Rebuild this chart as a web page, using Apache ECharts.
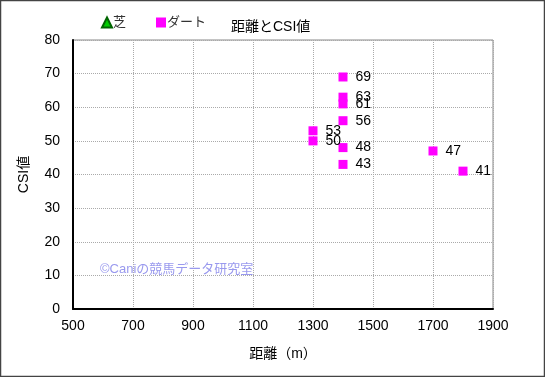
<!DOCTYPE html>
<html lang="ja">
<head>
  <meta charset="utf-8">
  <script src="https://cdn.jsdelivr.net/npm/echarts@6.0.0/dist/echarts.min.js"></script>
  <style>
    html, body { margin: 0; padding: 0; background: #fff; }
  </style>
</head>
<body>
  <div id="csiChart" style="width: 545px;height:377px;"></div>

  <script type="text/javascript">

    // 芝 (no points in this chart)
    var turfDistance = [];
    var turfCsi = [];

    // ダート
    var dirtDistance = [1400, 1400, 1400, 1400, 1300, 1300, 1400, 1400, 1700, 1800];
    var dirtCsi = [69, 63, 61, 56, 53, 50, 48, 43, 47, 41];

    function toPairs(xs, ys) {
        var out = [];
        for (var i = 0; i < xs.length; i++) {
            out.push([xs[i], ys[i]]);
        }
        return out;
    }

    function createCsiChart() {
        const chart = echarts.init(document.getElementById("csiChart"));
        const font = "'Liberation Sans', 'Noto Sans CJK JP', sans-serif";

        var option = {
            animation: false,
            textStyle: { fontFamily: font },
            title: {
                text: '距離とCSI値',
                left: 226,
                top: 15,
                textStyle: { fontSize: 14, fontWeight: 'normal', color: '#000', fontFamily: font }
            },
            legend: {
                left: 96,
                top: 11,
                itemWidth: 10,
                itemHeight: 10,
                itemGap: 30,
                textStyle: { fontSize: 13, color: '#333', fontFamily: font, padding: [0, 0, 0, -4] },
                data: [
                    { name: '芝', icon: 'triangle' },
                    { name: 'ダート', icon: 'rect' }
                ]
            },
            grid: {
                left: 73,
                right: 52,
                top: 40,
                bottom: 68,
                show: true,
                borderColor: '#888',
                borderWidth: 1
            },
            xAxis: {
                type: 'value',
                min: 500,
                max: 1900,
                interval: 200,
                name: '距離（m）',
                nameLocation: 'middle',
                nameGap: 38,
                nameTextStyle: { fontSize: 14, color: '#000', fontFamily: font },
                axisLine: { lineStyle: { color: '#000', width: 2 } },
                axisTick: { show: false },
                axisLabel: { fontSize: 14, color: '#000', margin: 10, formatter: function (v) { return String(v); } },
                splitLine: { lineStyle: { color: '#aaa', type: 'dotted' } }
            },
            yAxis: {
                type: 'value',
                min: 0,
                max: 80,
                interval: 10,
                name: 'CSI値',
                nameLocation: 'middle',
                nameGap: 42,
                nameTextStyle: { fontSize: 14, color: '#000', fontFamily: font },
                axisLine: { show: true, lineStyle: { color: '#000', width: 2 } },
                axisTick: { show: false },
                axisLabel: { fontSize: 14, color: '#000', margin: 13 },
                splitLine: { lineStyle: { color: '#aaa', type: 'dotted' } }
            },
            graphic: [
                {
                    type: 'rect',
                    shape: { x: 0.5, y: 0.5, width: 544, height: 376 },
                    style: { fill: 'none', stroke: '#444', lineWidth: 1.5 },
                    silent: true
                },
                {
                    type: 'text',
                    left: 100,
                    top: 263,
                    z: 10,
                    style: {
                        text: '©Caniの競馬データ研究室',
                        fill: '#9999ee',
                        font: '13px ' + font
                    }
                }
            ],
            series: [
                {
                    name: '芝',
                    type: 'scatter',
                    symbol: 'triangle',
                    symbolSize: 9,
                    itemStyle: { color: '#00cc00', borderColor: '#006600', borderWidth: 0.5, opacity: 1 },
                    data: toPairs(turfDistance, turfCsi)
                },
                {
                    name: 'ダート',
                    type: 'scatter',
                    symbol: 'rect',
                    symbolSize: 9,
                    itemStyle: { color: '#ff00ff', opacity: 1 },
                    label: {
                        show: true,
                        position: 'right',
                        distance: 8,
                        fontSize: 14,
                        color: '#000',
                        formatter: function (p) { return p.value[1]; }
                    },
                    data: toPairs(dirtDistance, dirtCsi)
                }
            ]
        };

        chart.setOption(option);
    }
    createCsiChart();
  </script>
</body>
</html>
